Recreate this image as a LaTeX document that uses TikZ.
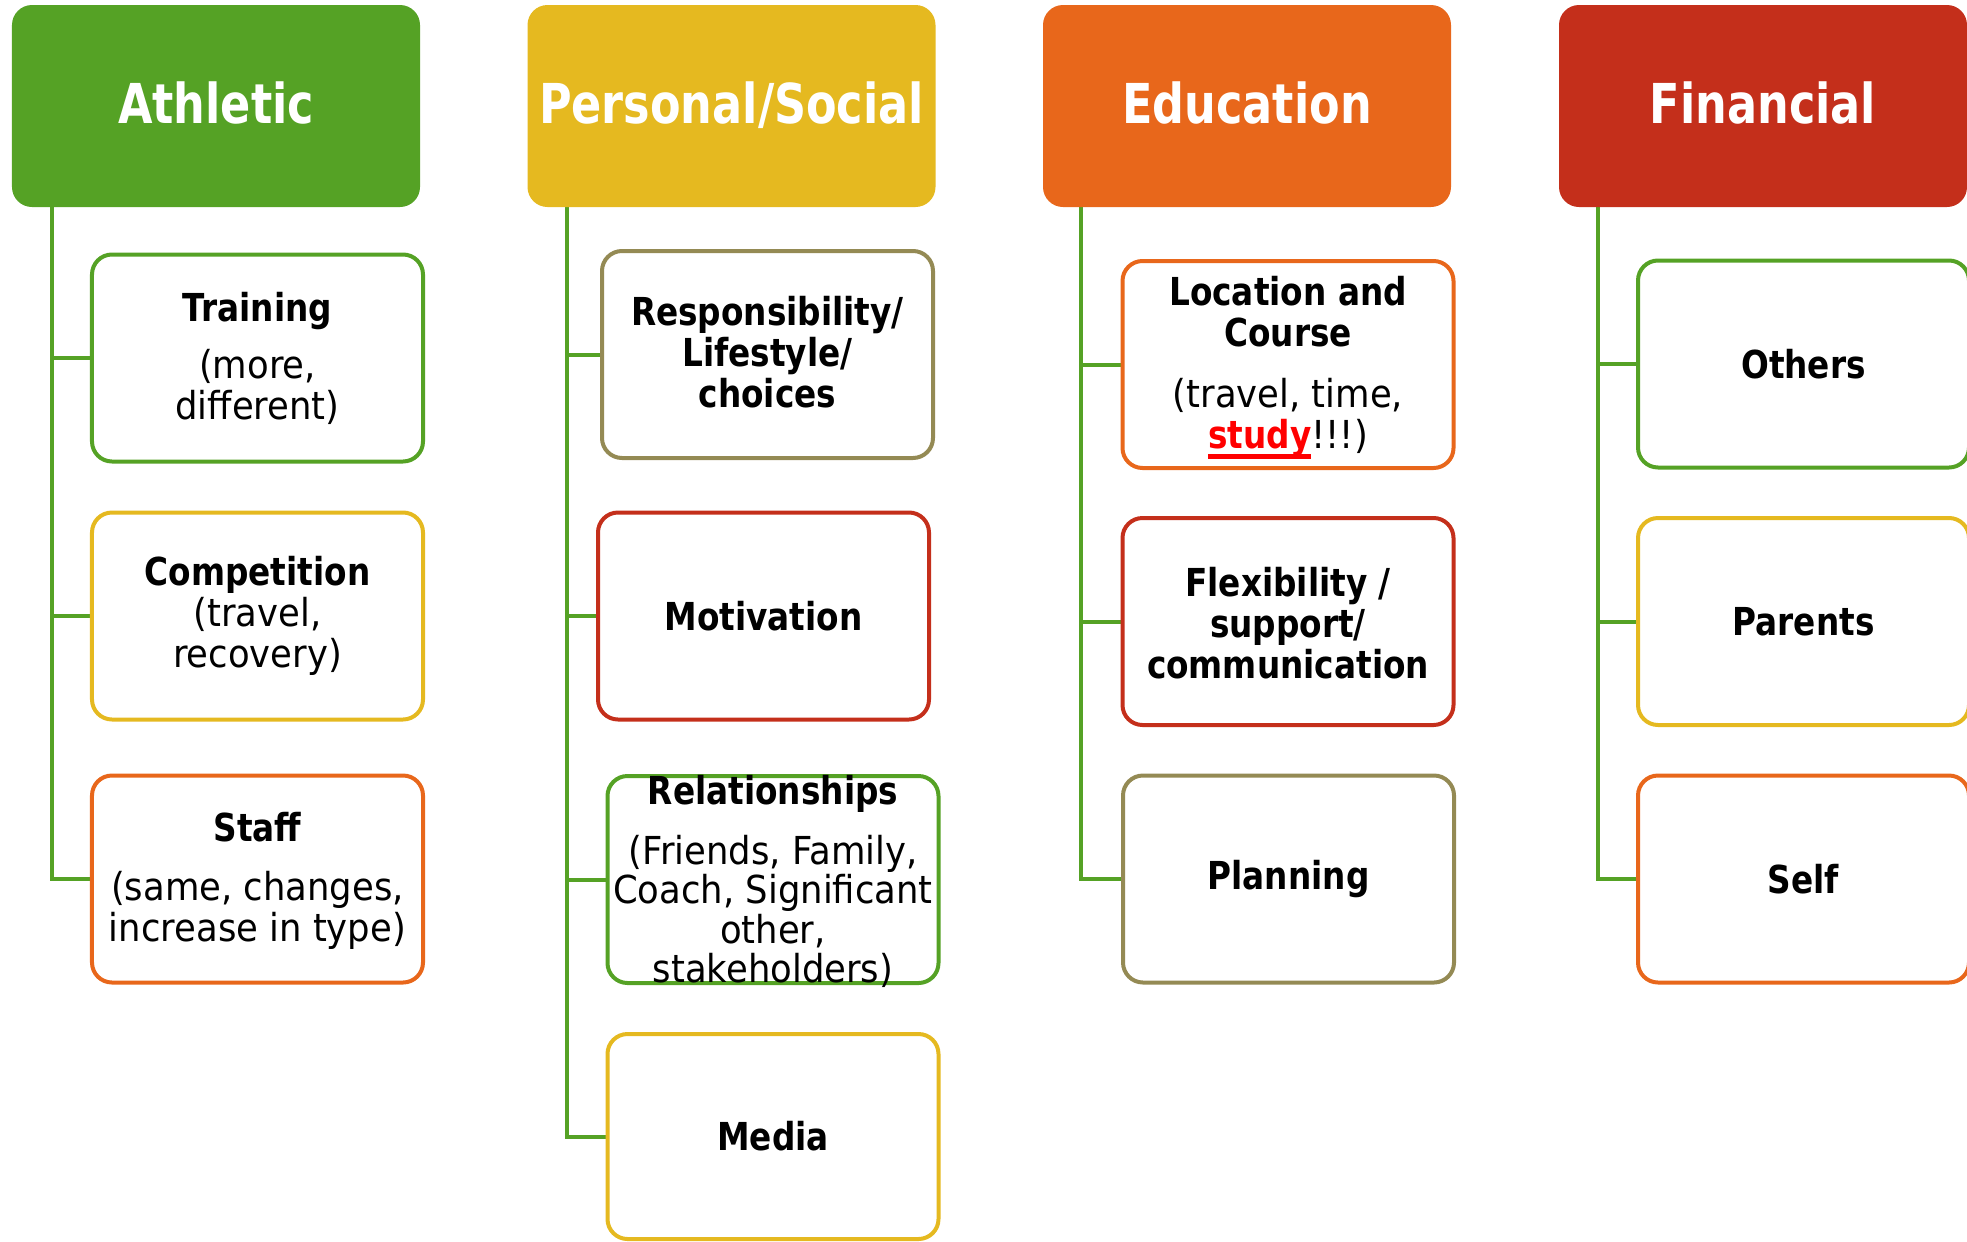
\documentclass[tikz,border=0pt]{standalone}
\usepackage{fontspec}
\setmainfont{DejaVu Sans}[FakeStretch=0.92]
\newfontfamily\titlefont{DejaVu Sans}[FakeStretch=0.85]
\newfontfamily\headfont{DejaVu Sans}[FakeStretch=0.81]
\usetikzlibrary{calc,backgrounds}

\definecolor{cgreen}{RGB}{85,162,37}
\definecolor{cyellow}{RGB}{229,185,32}
\definecolor{corange}{RGB}{232,103,27}
\definecolor{cred}{RGB}{196,47,27}
\definecolor{colive}{RGB}{148,138,84}

% bold item title
\newcommand\ttl[1]{{\titlefont\bfseries #1}}
% thick underline for emphasised words
\newsavebox\ulbox
\newcommand\thickul[1]{\sbox\ulbox{#1}\rlap{\rule[-0.28em]{\wd\ulbox}{0.14em}}\usebox\ulbox}

\tikzset{
  header/.style={fill=#1, rounded corners=20bp, minimum width=408bp,
    minimum height=202bp, inner sep=0pt, text=white,
    font=\headfont\bfseries\fontsize{55bp}{60bp}\selectfont,
    text height=34bp, text depth=0bp},
  cbox/.style={draw=#1, fill=white, line width=4bp, rounded corners=20bp,
    minimum width=331bp, minimum height=207bp, inner sep=0pt},
  body/.style={align=center, inner sep=0pt,
    font=\fontsize{38.5bp}{41bp}\selectfont},
  conn/.style={draw=cgreen, line width=4bp}
}

\begin{document}
\begin{tikzpicture}[x=1bp,y=-1bp]
\useasboundingbox (0,0) rectangle (1967,1241);

% column headers
\node[header=cgreen]  (hA) at (216,106)   {Athletic};
\node[header=cyellow] (hB) at (731.5,106) {Personal/Social};
\node[header=corange] (hC) at (1247,106)  {Education};
\node[header=cred]    (hD) at (1763,106)  {Financial};

% spine positions
\coordinate (spA) at (52,0);
\coordinate (spB) at (567,0);
\coordinate (spC) at (1081,0);
\coordinate (spD) at (1598,0);

% Athletic
\node[cbox=cgreen]  (trn) at (257.5,358) {};
\node[body] (trnT) at (trn) {\ttl{Training}\\[16bp](more,\\different)};
\node[cbox=cyellow] (cmp) at (257.5,616) {};
\node[body] (cmpT) at (cmp) {\ttl{Competition}\\(travel,\\recovery)};
\node[cbox=corange] (stf) at (257.5,879) {};
\node[body] (stfT) at ([yshift=-2bp]stf.center) {\ttl{Staff}\\[18bp](same, changes,\\increase in type)};

% Personal/Social
\node[cbox=colive]  (rsp) at (767.5,354.5) {};
\node[body] (rspT) at ([yshift=2bp]rsp.center) {\ttl{Responsibility/}\\\ttl{Lifestyle/}\\\ttl{choices}};
\node[cbox=cred]    (mot) at (763.5,616) {};
\node[body] (motT) at (mot) {\ttl{Motivation}};
\node[cbox=cgreen]  (rel) at (773,879.5) {};
\node[body, font=\fontsize{38.5bp}{39.5bp}\selectfont] (relT) at ([yshift=-2bp]rel.center)
  {\ttl{Relationships}\\[20bp](Friends, Family,\\Coach, Significant\\other,\\stakeholders)};
\node[cbox=cyellow, minimum height=205bp] (med) at (773,1136.5) {};
\node[body] (medT) at (med) {\ttl{Media}};

% Education
\node[cbox=corange] (loc) at (1288,364.5) {};
\node[body] (locT) at ([yshift=-3bp]loc.center) {\ttl{Location and}\\\ttl{Course}\\[20bp](travel, time,\\{\color{red}\thickul{\ttl{study}}}!!!)};
\node[cbox=cred]    (flx) at (1288,621.5) {};
\node[body] (flxT) at ([yshift=-2bp]flx.center) {\ttl{Flexibility /}\\\ttl{support/}\\\ttl{communication}};
\node[cbox=colive]  (pln) at (1288.5,879) {};
\node[body] (plnT) at (pln) {\ttl{Planning}};

% Financial
\node[cbox=cgreen]  (oth) at (1803.5,364) {};
\node[body] (othT) at (oth) {\ttl{Others}};
\node[cbox=cyellow] (par) at (1803.5,621.5) {};
\node[body] (parT) at (par) {\ttl{Parents}};
\node[cbox=corange] (slf) at (1803.5,879) {};
\node[body] (slfT) at (slf) {\ttl{Self}};

% connectors
\begin{scope}[on background layer]
  \draw[conn] (spA |- hA.south) |- (stf.west);
  \draw[conn] (spA |- trn.west) -- (trn.west);
  \draw[conn] (spA |- cmp.west) -- (cmp.west);

  \draw[conn] (spB |- hB.south) |- (med.west);
  \draw[conn] (spB |- rsp.west) -- (rsp.west);
  \draw[conn] (spB |- mot.west) -- (mot.west);
  \draw[conn] (spB |- rel.west) -- (rel.west);

  \draw[conn] (spC |- hC.south) |- (pln.west);
  \draw[conn] (spC |- loc.west) -- (loc.west);
  \draw[conn] (spC |- flx.west) -- (flx.west);

  \draw[conn] (spD |- hD.south) |- (slf.west);
  \draw[conn] (spD |- oth.west) -- (oth.west);
  \draw[conn] (spD |- par.west) -- (par.west);
\end{scope}
\end{tikzpicture}
\end{document}
